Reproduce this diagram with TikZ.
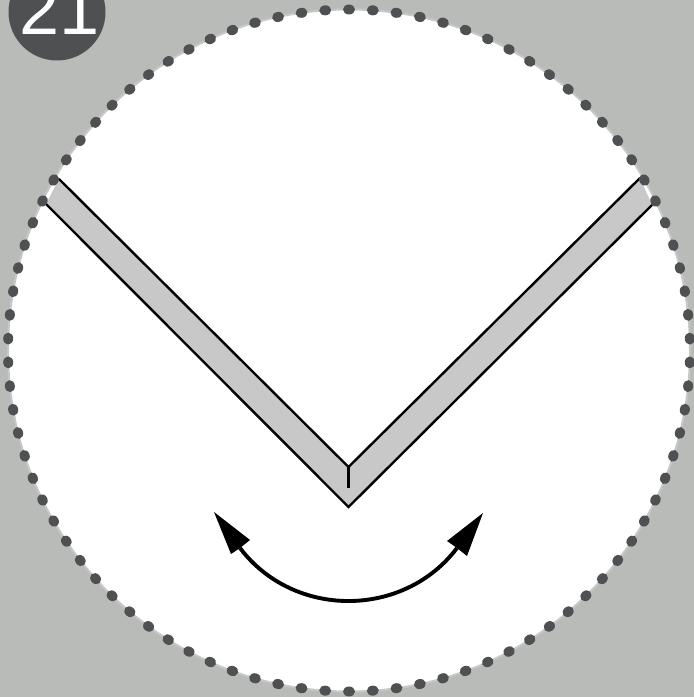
\documentclass[tikz,border=0pt]{standalone}
\usepackage{fontspec}
\newfontfamily\badgefont{Liberation Sans}
\definecolor{bgc}{HTML}{B9BBB8}
\definecolor{bandc}{HTML}{C8C8C8}
\definecolor{darkc}{HTML}{4F5052}
\tikzset{
  bandline/.style={draw=black,line width=2.4pt,line cap=butt},
  swing/.style={draw=black,line width=3.9pt},
  tipfill/.style={fill=black},
  dotfill/.style={fill=darkc}
}
\begin{document}
\begin{tikzpicture}[x=1pt,y=1pt]
\useasboundingbox (0,0) rectangle (694,697);
\clip (0,0) rectangle (694,697);
\fill[bgc] (0,0) rectangle (694,697);
% badge
\fill[darkc] (57,685) circle (48.5);
\node[anchor=base,text=white,font=\badgefont\fontsize{72pt}{72pt}\selectfont,inner sep=0pt] (num) at (60,662) {21};
% lens
\fill[white] (349,346.5) circle (341);
\draw[bandc,line width=2pt] (349,346.5) circle (341);
% band
\coordinate (lu) at (59,518);
\coordinate (ll) at (46,493);
\coordinate (ru) at (640,519);
\coordinate (rl) at (652,492);
\coordinate (ai) at (348.5,230);
\coordinate (ao) at (348.5,190);
\coordinate (am) at (348.5,209);
\fill[bandc] (lu) -- (ai) -- (ru) -- (rl) -- (ao) -- (ll) -- cycle;
\draw[bandline,line join=miter] (lu) -- (ai) -- (ru);
\draw[bandline,line join=miter] (ll) -- (ao) -- (rl);
\draw[bandline] (ai) -- (am);
% dots
\foreach \k in {0,...,89}{
  \pgfmathsetmacro{\a}{90+4*\k}
  \fill[dotfill] ({349+341*cos(\a)},{346.5+341*sin(\a)}) ellipse [x radius=5,y radius=6,rotate=\a];
}
% swing arrow
\coordinate (nl) at (240,149);
\coordinate (nr) at (457,149);
\draw[swing] (nl) .. controls (293.5,78.3) and (403.5,78.3) .. (nr);
\fill[tipfill] (214,185) -- (231,143) -- (240,149) -- (250,157) -- cycle;
\fill[tipfill] (483,184) -- (467,141) -- (457,149) -- (447,156) -- cycle;
\end{tikzpicture}
\end{document}
